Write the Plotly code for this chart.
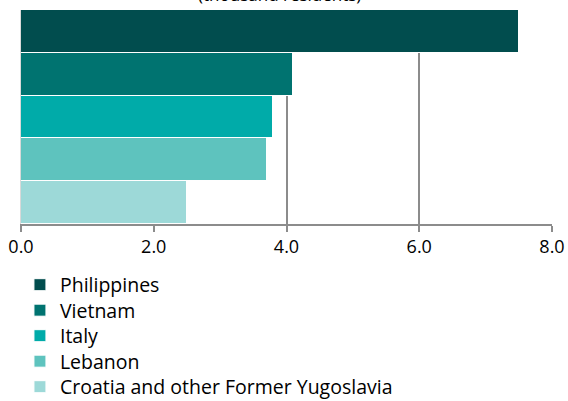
import plotly.graph_objects as go

countries = ["Philippines", "Vietnam", "Italy", "Lebanon", "Croatia and other Former Yugoslavia"]
values = [7.5, 4.1, 3.8, 3.7, 2.5]
colors = ["#014D4E", "#007370", "#00ABA9", "#5EC3BE", "#9DD9D8"]
tick_vals = [0, 2, 4, 6, 8]
tick_text = ["0.0", "2.0", "4.0", "6.0", "8.0"]
title_text = "(thousand residents)"

# legend row centres (page px) and plot area geometry
plot_top, plot_bottom = 10, 224
row_centres = [285, 310.5, 336, 361.5, 387]

fig = go.Figure()
legend_layout = {}
for i, (c, v, col) in enumerate(zip(countries, values, colors)):
    lname = "legend" if i == 0 else f"legend{i + 1}"
    fig.add_trace(go.Bar(
        y=[c], x=[v], name=c, orientation="h", legend=lname,
        marker=dict(color=col, line=dict(color="white", width=1)),
    ))
    legend_layout[lname] = dict(
        x=-0.002, y=(plot_bottom - row_centres[i]) / (plot_bottom - plot_top),
        xanchor="left", yanchor="middle",
        font=dict(size=19.5), itemwidth=30, bgcolor="rgba(0,0,0,0)",
    )

fig.update_layout(
    width=568, height=401,
    margin=dict(l=21, r=16, t=plot_top, b=401 - plot_bottom, autoexpand=False),
    paper_bgcolor="white", plot_bgcolor="white",
    barmode="stack", bargap=0,
    font=dict(family="Open Sans, sans-serif", color="black"),
    showlegend=True,
    xaxis=dict(range=[0, 8], tickvals=tick_vals, ticktext=tick_text,
               showgrid=True, gridcolor="#8c8c8c", gridwidth=1.5,
               zeroline=False, showline=True, linecolor="#8c8c8c", linewidth=1.5,
               ticks="outside", ticklen=6, tickcolor="#8c8c8c", tickwidth=1.5,
               tickfont=dict(size=18)),
    yaxis=dict(categoryorder="array", categoryarray=countries, autorange="reversed",
               showticklabels=False, showgrid=False, zeroline=False,
               showline=True, linecolor="#d9d9d9", linewidth=1),
    **legend_layout,
)
fig.add_annotation(text=title_text, xref="paper", yref="paper", x=0.486, y=1.0,
                   yshift=16, yanchor="middle", showarrow=False,
                   font=dict(size=17, color="black"))

fig.write_html("out.html", config={"displayModeBar": False},
               post_script="document.body.style.margin='0';")
